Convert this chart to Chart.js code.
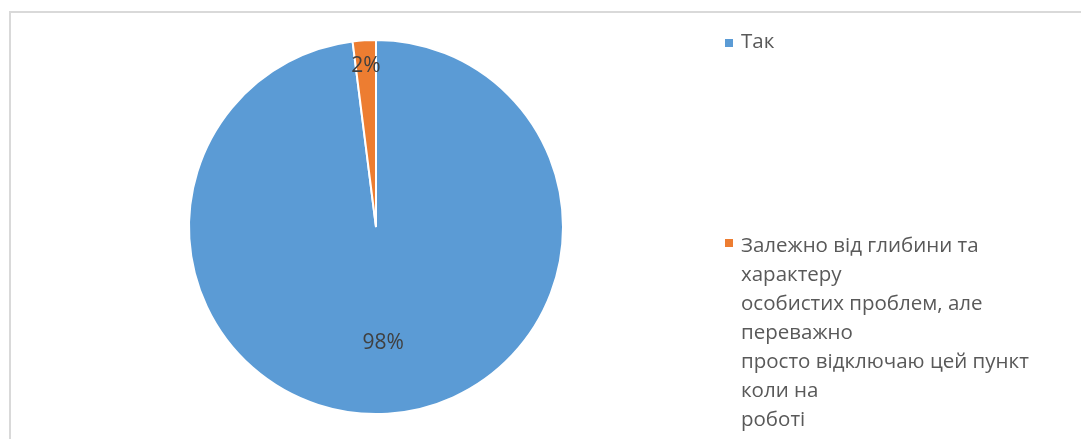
<!DOCTYPE html>
<html>
<head>
<meta charset="utf-8">
<script src="https://cdn.jsdelivr.net/npm/chart.js@4"></script>
<style>
  html, body { margin: 0; padding: 0; background: #fff; }
  #wrap { position: relative; width: 1081px; height: 439px; overflow: hidden; }
  #frame {
    position: absolute; left: 9px; top: 11px; width: 1100px; height: 460px;
    border-left: 2px solid #d9d9d9; border-top: 2px solid #d9d9d9;
  }
  canvas { position: absolute; left: 0; top: 0; }
  #legend {
    position: absolute; left: 725px; top: 0; width: 350px;
    font-family: "Open Sans", sans-serif; font-size: 20.5px; line-height: 29px; color: #595959;
  }
  .item { position: absolute; left: 0; white-space: nowrap; }
  .box { position: absolute; left: 0; width: 8px; height: 8px; }
  .txt { position: absolute; left: 16px; top: 0; }
</style>
</head>
<body>
<div id="wrap">
  <div id="frame"></div>
  <canvas id="pie-chart" width="1081" height="439"></canvas>
  <div id="legend"></div>
</div>
<script>
// datos
const categorias = [
  ["Так"],
  ["Залежно від глибини та", "характеру", "особистих проблем, але", "переважно",
   "просто відключаю цей пункт", "коли на", "роботі"],
];
const valores = [98, 2];
const colores = ["#5b9bd5", "#ed7d31"];

// etiquetas de porcentaje dentro del pie
const etiquetasPlugin = {
  id: "etiquetas",
  afterDatasetsDraw(chart) {
    const ctx = chart.ctx;
    const meta = chart.getDatasetMeta(0);
    const total = valores.reduce((a, b) => a + b, 0);
    const radios = [0.62, 0.86];
    ctx.save();
    ctx.font = "21px 'Open Sans', sans-serif";
    ctx.fillStyle = "#404040";
    ctx.textAlign = "center";
    ctx.textBaseline = "middle";
    meta.data.forEach((arc, i) => {
      const ang = (arc.startAngle + arc.endAngle) / 2;
      const r = arc.outerRadius * radios[i];
      const x = arc.x + Math.cos(ang) * r;
      const y = arc.y + Math.sin(ang) * r;
      ctx.fillText(Math.round((valores[i] / total) * 100) + "%", x, y);
    });
    ctx.restore();
  },
};

const contenedorPie = document.querySelector("#pie-chart").getContext("2d");

const pieChart = new Chart(contenedorPie, {
  type: "pie",
  data: {
    labels: categorias,
    datasets: [
      {
        data: valores,
        backgroundColor: colores,
        borderColor: "#ffffff",
        borderWidth: 2,
      },
    ],
  },
  options: {
    responsive: false,
    animation: false,
    layout: { padding: { left: 188, right: 517, top: 39, bottom: 24 } },
    plugins: {
      legend: { display: false },
      tooltip: { enabled: false },
    },
  },
  plugins: [etiquetasPlugin],
});

// leyenda en html
const leyenda = document.querySelector("#legend");
const topes = [26, 230];
const cajas = [39, 239];
categorias.forEach((lineas, i) => {
  const item = document.createElement("div");
  item.className = "item";
  item.style.top = topes[i] + "px";
  const box = document.createElement("div");
  box.className = "box";
  box.style.top = cajas[i] - topes[i] + "px";
  box.style.background = colores[i];
  const txt = document.createElement("div");
  txt.className = "txt";
  txt.innerHTML = lineas.join("<br>");
  item.appendChild(box);
  item.appendChild(txt);
  leyenda.appendChild(item);
});
</script>
</body>
</html>
